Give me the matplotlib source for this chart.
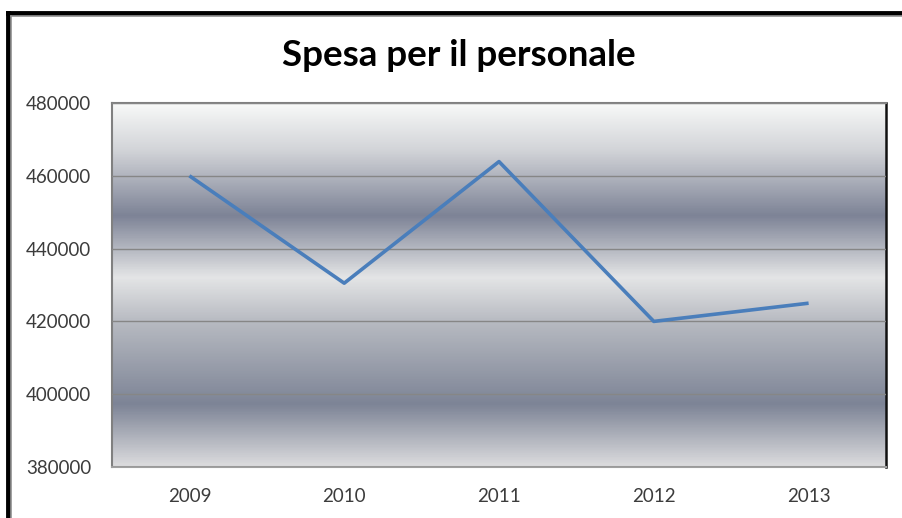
import matplotlib
matplotlib.use("Agg")
import matplotlib.pyplot as plt
import numpy as np
from matplotlib.colors import LinearSegmentedColormap
from matplotlib.lines import Line2D

years = ["2009", "2010", "2011", "2012", "2013"]
spesa = [460000, 430500, 463900, 420000, 425000]
y_ticks = [380000, 400000, 420000, 440000, 460000, 480000]
title = "Spesa per il personale"

plt.rcParams['font.family'] = ['Lato', 'DejaVu Sans']

fig = plt.figure(figsize=(9.03, 5.18), dpi=100)
ax = fig.add_axes([112/903, 51/518, 774/903, 364/518])

# background gradient (top -> bottom)
stops = [
    (0.00, "#f8f9f8"),
    (0.13, "#d2d4d8"),
    (0.31, "#7d8396"),
    (0.48, "#e4e5e6"),
    (0.60, "#b8bbc2"),
    (0.83, "#7d8496"),
    (1.00, "#dcdcde"),
]
cmap = LinearSegmentedColormap.from_list("bg", stops)
grad = np.linspace(0, 1, 400).reshape(-1, 1)
x = np.arange(len(years))
ax.imshow(grad, cmap=cmap, aspect="auto", extent=(-0.5, len(years) - 0.5, y_ticks[0], y_ticks[-1]),
          origin="upper", zorder=0, interpolation="bilinear")

ax.set_xlim(-0.5, len(years) - 0.5)
ax.set_ylim(y_ticks[0], y_ticks[-1])
ax.set_yticks(y_ticks)
ax.set_yticklabels([str(v) for v in y_ticks])
ax.set_xticks(x)
ax.set_xticklabels(years)
ax.yaxis.grid(True, color="#868686", linewidth=1.0, zorder=1)
ax.set_axisbelow(False)
ax.tick_params(axis="both", length=0, labelsize=13.5, colors="#3c3c3c")
ax.tick_params(axis="y", pad=15)
ax.tick_params(axis="x", pad=15)

ax.plot(x, spesa, color="#4a7ebb", linewidth=2.6, zorder=3, solid_capstyle="butt")

for side in ["top", "left"]:
    ax.spines[side].set_color("#808080")
    ax.spines[side].set_linewidth(1.5)
ax.spines["bottom"].set_color("#a0a0a0")
ax.spines["bottom"].set_linewidth(1.5)
ax.spines["right"].set_color("#111111")
ax.spines["right"].set_linewidth(1.8)

fig.text(459/903, 1 - 55/518, title, ha="center", va="center", fontsize=26.5,
         fontweight="bold", color="#000000")

# outer chart frame (partly cropped)
W, H = 903, 518
fig.add_artist(Line2D([8/W, 8/W], [0, 1 - 13/H], color="black", linewidth=3.5, transform=fig.transFigure))
fig.add_artist(Line2D([8/W, 1.01], [1 - 13/H, 1 - 13/H], color="black", linewidth=3.5, transform=fig.transFigure))
fig.add_artist(Line2D([11.5/W, 11.5/W], [0, 1 - 15.5/H], color="#909090", linewidth=1.2, transform=fig.transFigure))
fig.add_artist(Line2D([11.5/W, 1.01], [1 - 15.5/H, 1 - 15.5/H], color="#909090", linewidth=1.2, transform=fig.transFigure))

fig.savefig("out.png", dpi=100)
